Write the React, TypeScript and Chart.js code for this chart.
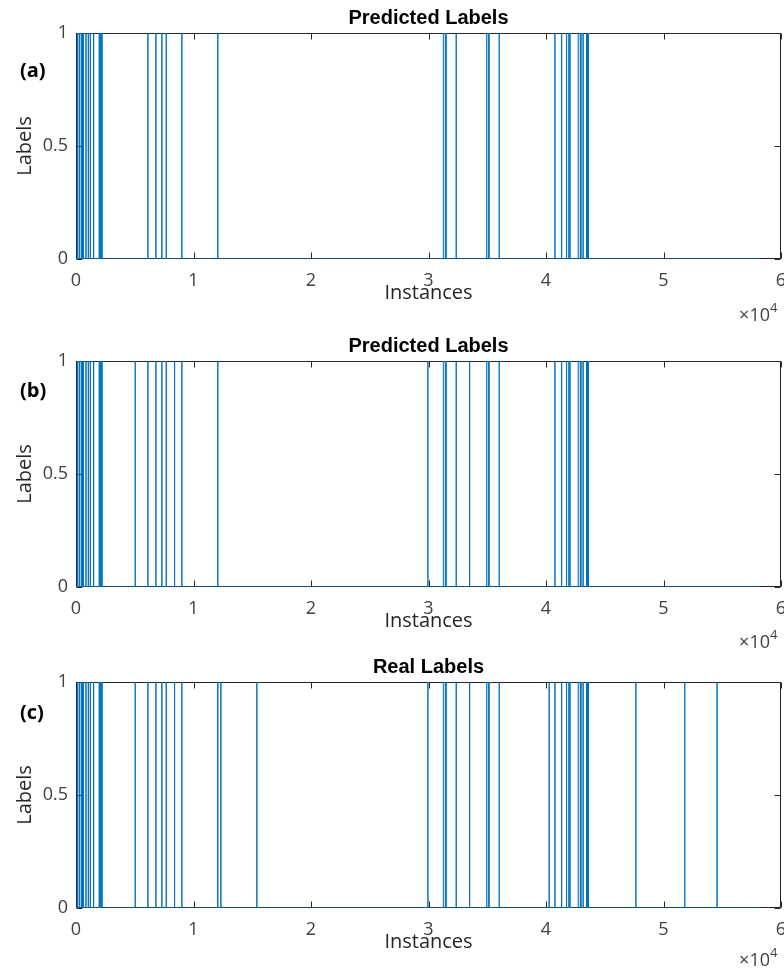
import React, { useEffect, useRef } from "react";
import { Chart, registerables } from "chart.js";

Chart.register(...registerables);

// ---- data (instance indices where label = 1) ----
const X_MIN = 0;
const X_MAX = 60000;
const X_STEP = 10000;
const Y_TICK_STEP = 0.5;
const N_INSTANCES = 58200;

const predictedASpikes = [
  150, 300, 450, 560, 640, 850, 1050, 1220, 1500, 1980, 2060, 2140, 2220,
  6120, 6800, 7310, 7680, 9010, 12070,
  32360, 36020, 40760, 41330, 41750, 41950, 42040, 43160, 43450, 43530, 43610,
];
const predictedAIntervals: [number, number][] = [
  [31260, 31490],
  [34950, 35140],
  [42740, 42970],
];

const predictedBSpikes = [
  150, 300, 450, 560, 640, 850, 1050, 1220, 1500, 1980, 2060, 2140, 2220,
  5040, 6120, 6800, 7310, 7680, 8390, 9010, 12070,
  29950, 32360, 33500, 36020, 40760, 41330, 41750, 41950, 42040, 43160, 43450, 43530, 43610,
];
const predictedBIntervals: [number, number][] = [
  [31260, 31490],
  [34950, 35140],
  [42740, 42970],
];

const realSpikes = [
  150, 300, 450, 560, 640, 850, 1050, 1220, 1500, 1980, 2060, 2140, 2220,
  5040, 6120, 6800, 7310, 7680, 8390, 9010, 12070, 12330, 15390,
  29950, 32360, 33500, 36020, 40270, 40760, 41330, 41750, 41950, 42040, 43160, 43450, 43530, 43610,
  47650, 51810, 54560,
];
const realIntervals: [number, number][] = [
  [31260, 31490],
  [34950, 35140],
  [42740, 42970],
];

const panelTitles = ["Predicted Labels", "Predicted Labels", "Real Labels"];
const panelTags = ["(a)", "(b)", "(c)"];
const xAxisTitle = "Instances";
const yAxisTitle = "Labels";
const exponentBase = "\u00d710";
const exponentPower = "4";

// ---- build step line from spikes/intervals ----
function buildSeries(spikes: number[], intervals: [number, number][]) {
  const events: [number, number][] = [
    ...spikes.map((s) => [s, s] as [number, number]),
    ...intervals,
  ].sort((a, b) => a[0] - b[0]);
  const pts: { x: number; y: number }[] = [{ x: 0, y: 0 }];
  for (const [s, e] of events) {
    pts.push({ x: s, y: 0 }, { x: s, y: 1 }, { x: e, y: 1 }, { x: e, y: 0 });
  }
  pts.push({ x: N_INSTANCES, y: 0 });
  return pts;
}

const AXIS_COLOR = "#262626";
const TICK_COLOR = "#404040";
const LINE_COLOR = "#0072BD";
const TICK_LEN = 6;

const boxPlugin = {
  id: "matlabBox",
  beforeDatasetsDraw(chart: any) {
    const { ctx, chartArea, scales } = chart;
    const l = Math.round(chartArea.left) + 0.5;
    const r = Math.round(chartArea.right) - 0.5;
    const t = Math.round(chartArea.top) + 0.5;
    const b = Math.round(chartArea.bottom) - 0.5;
    ctx.save();
    ctx.strokeStyle = AXIS_COLOR;
    ctx.lineWidth = 1;
    ctx.strokeRect(l, t, r - l, b - t);
    ctx.beginPath();
    for (const tk of scales.x.ticks) {
      const px = Math.round(scales.x.getPixelForValue(tk.value)) + 0.5;
      ctx.moveTo(px, b);
      ctx.lineTo(px, b - TICK_LEN);
      ctx.moveTo(px, t);
      ctx.lineTo(px, t + TICK_LEN);
    }
    for (const tk of scales.y.ticks) {
      const py = Math.round(scales.y.getPixelForValue(tk.value)) + 0.5;
      ctx.moveTo(l, py);
      ctx.lineTo(l + TICK_LEN, py);
      ctx.moveTo(r, py);
      ctx.lineTo(r - TICK_LEN, py);
    }
    ctx.stroke();
    ctx.restore();
  },
  afterDraw(chart: any, _args: any, opts: any) {
    const { ctx, chartArea } = chart;
    const off = opts && opts.expOffset ? opts.expOffset : 61;
    ctx.save();
    ctx.fillStyle = TICK_COLOR;
    ctx.textBaseline = "alphabetic";
    ctx.font = "18px 'Open Sans'";
    ctx.textAlign = "right";
    ctx.fillText(exponentBase, chartArea.right - 11, chartArea.bottom + off);
    ctx.font = "13px 'Open Sans'";
    ctx.textAlign = "left";
    ctx.fillText(exponentPower, chartArea.right - 11, chartArea.bottom + off - 9);
    ctx.restore();
  },
};

function Panel(props: {
  title: string;
  spikes: number[];
  intervals: [number, number][];
  top: number;
  expOffset: number;
}) {
  const ref = useRef<HTMLCanvasElement | null>(null);
  useEffect(() => {
    if (!ref.current) return;
    const chart = new Chart(ref.current, {
      type: "line",
      data: {
        datasets: [
          {
            data: buildSeries(props.spikes, props.intervals),
            borderColor: LINE_COLOR,
            backgroundColor: "rgba(0,114,189,0.28)",
            borderWidth: 1,
            pointRadius: 0,
            fill: "origin",
            tension: 0,
          },
        ],
      },
      options: {
        animation: false,
        responsive: false,
        maintainAspectRatio: false,
        layout: { padding: { left: 0, right: 3, top: 0, bottom: 0 } },
        plugins: {
          legend: { display: false },
          tooltip: { enabled: false },
          matlabBox: { expOffset: props.expOffset },
          title: {
            display: true,
            fullSize: false,
            text: props.title,
            color: "#000",
            font: { family: "'Liberation Sans', Arial, sans-serif", size: 20, weight: "bold" },
            padding: { top: 6.3, bottom: 2.7 },
          },
        },
        scales: {
          x: {
            type: "linear",
            min: X_MIN,
            max: X_MAX,
            grid: { display: false, drawTicks: false },
            border: { display: false },
            ticks: {
              stepSize: X_STEP,
              autoSkip: false,
              maxRotation: 0,
              padding: 10.7,
              color: TICK_COLOR,
              font: { family: "'Open Sans'", size: 18 },
              callback: (v: any) => String(Number(v) / X_STEP),
            },
            title: {
              display: true,
              text: xAxisTitle,
              color: AXIS_COLOR,
              font: { family: "'Open Sans'", size: 20 },
              padding: { top: 0, bottom: 25 },
            },
            afterFit: (s: any) => {
              s.height = 71;
              s.paddingLeft = 0;
              s.paddingRight = 0;
            },
          },
          y: {
            min: 0,
            max: 1,
            grid: { display: false, drawTicks: false },
            border: { display: false },
            ticks: {
              stepSize: Y_TICK_STEP,
              padding: 8,
              color: TICK_COLOR,
              font: { family: "'Open Sans'", size: 18 },
              callback: (v: any) => String(Number(v)),
            },
            title: {
              display: true,
              text: yAxisTitle,
              color: AXIS_COLOR,
              font: { family: "'Open Sans'", size: 20 },
              padding: { top: 13, bottom: 0 },
            },
            afterFit: (s: any) => {
              s.width = 76;
              s.paddingTop = 0;
              s.paddingBottom = 0;
            },
          },
        },
      } as any,
      plugins: [boxPlugin],
    });
    return () => chart.destroy();
  }, []);
  return (
    <canvas
      ref={ref}
      width={784}
      height={330}
      style={{ position: "absolute", left: 0, top: props.top, width: 784, height: 330 }}
    />
  );
}

const panelTops = [0, 328, 649];
const expOffsets = [62, 61, 58];
const tagCenters = [70, 390, 712];

export default function App() {
  const seriesSpikes = [predictedASpikes, predictedBSpikes, realSpikes];
  const seriesIntervals = [predictedAIntervals, predictedBIntervals, realIntervals];
  return (
    <div
      style={{
        position: "absolute",
        left: 0,
        top: 0,
        width: 784,
        height: 969,
        overflow: "hidden",
        background: "#fff",
      }}
    >
      {panelTitles.map((t, i) => (
        <Panel
          key={i}
          title={t}
          spikes={seriesSpikes[i]}
          intervals={seriesIntervals[i]}
          top={panelTops[i]}
          expOffset={expOffsets[i]}
        />
      ))}
      {panelTags.map((tag, i) => (
        <div
          key={"tag" + i}
          style={{
            position: "absolute",
            left: 20,
            top: tagCenters[i] - 12,
            height: 24,
            lineHeight: "24px",
            fontFamily: "'Open Sans', sans-serif",
            fontWeight: 700,
            fontSize: 20,
            color: "#000",
          }}
        >
          {tag}
        </div>
      ))}
    </div>
  );
}
